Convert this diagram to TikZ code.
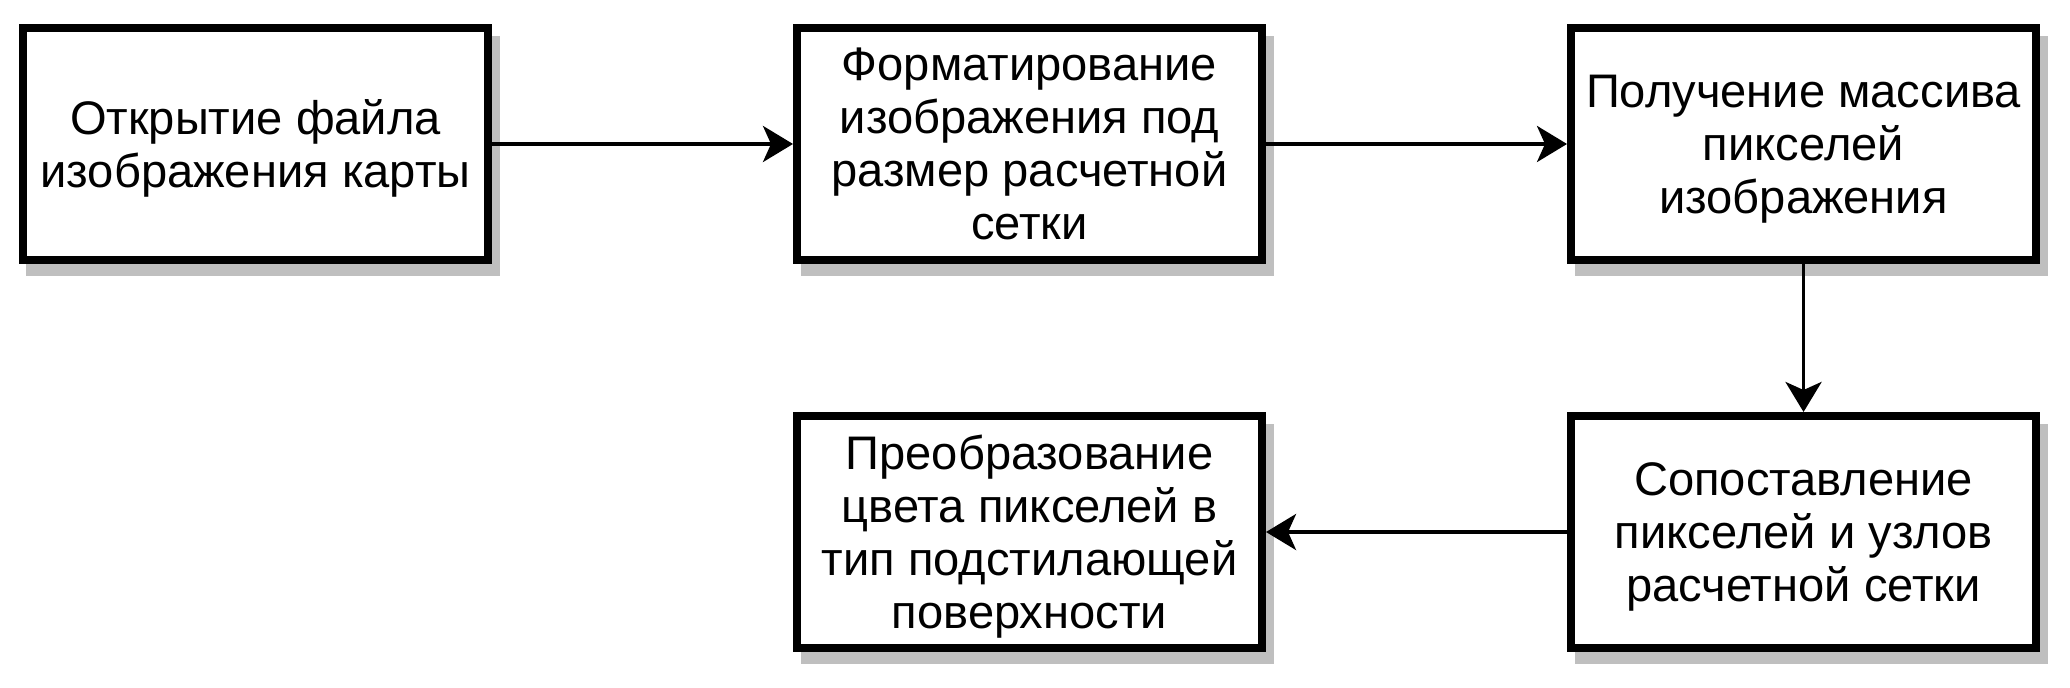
\documentclass[tikz,border=0pt]{standalone}
\usepackage{fontspec}
\setmainfont{Liberation Sans}
\usepackage{tikz}
\usetikzlibrary{
  positioning,
  shadows,
  arrows.meta
}
\tikzset{
  stage/.style={draw,line width=2.28pt,fill=white,align=center,inner sep=0pt,
    minimum width=4.65cm,minimum height=2.32cm,text depth=-2.4pt,
    font=\fontsize{13.4pt}{15.1pt}\selectfont,
    drop shadow={shadow xshift=0.075cm,shadow yshift=-0.12cm,
      fill=black!25,draw=black!25,opacity=1}},
  flow/.style={line width=1.1pt,-{Stealth[length=3mm,width=3.6mm,inset=0.8mm]}},
}

\begin{document}
\begin{tikzpicture}[
  node distance=3.01cm,
]
\useasboundingbox (0,0) rectangle (20.7,-6.88);
\node[stage] (open) at (2.555,-1.44) {Открытие файла\\изображения карты};
\node[stage,right=of open] (format) {Форматирование\\изображения под\\размер расчетной\\сетки};
\node[stage,right=of format] (pixels) {Получение массива\\пикселей\\изображения};
\node[stage,below=1.48cm of pixels] (match) {Сопоставление\\пикселей и узлов\\расчетной сетки};
\node[stage,left=of match] (convert) {Преобразование\\цвета пикселей в\\тип подстилающей\\поверхности};

\draw[flow] (open) -- (format);
\draw[flow] (format) -- (pixels);
\draw[flow] (pixels) -- (match);
\draw[flow] (match) -- (convert);
\end{tikzpicture}
\end{document}
